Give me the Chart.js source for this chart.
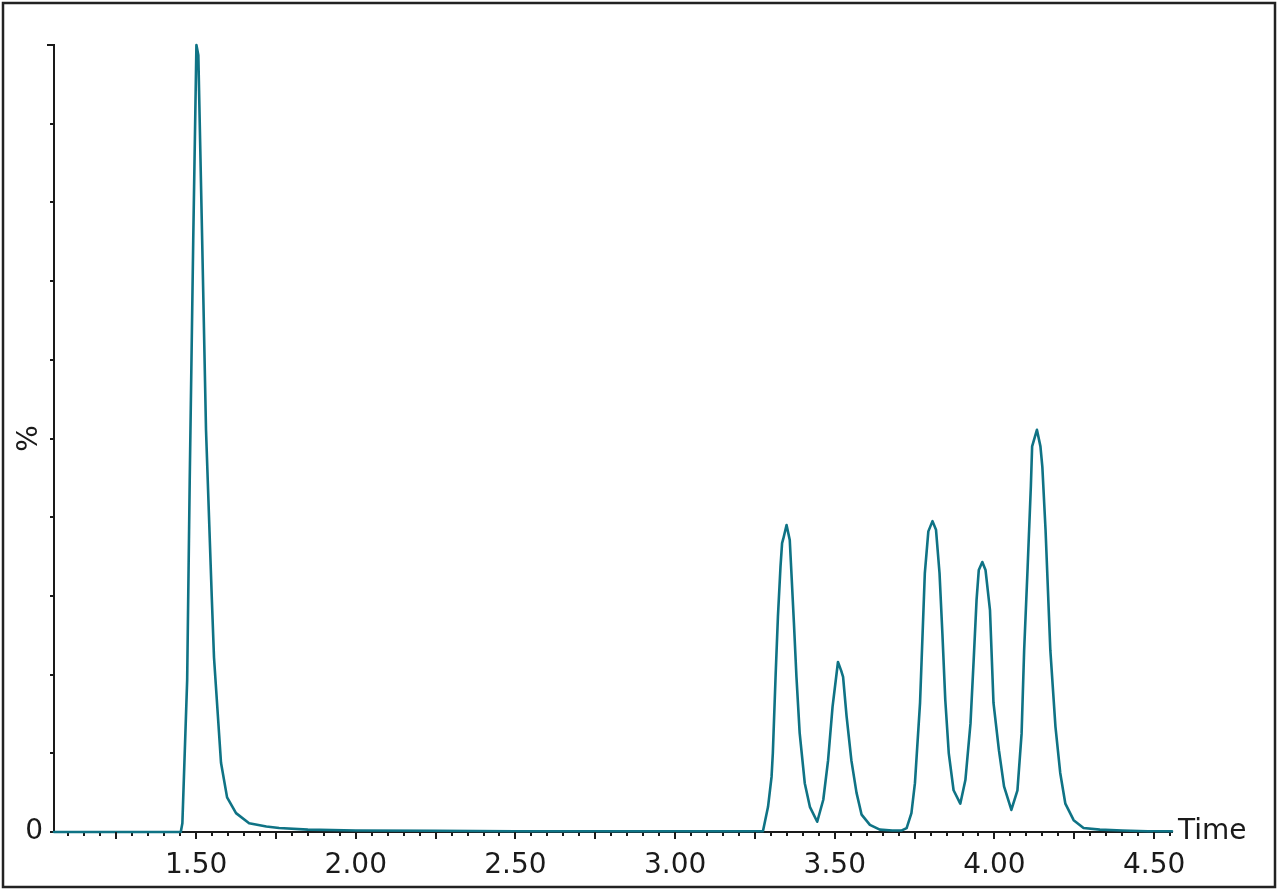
<!DOCTYPE html>
<html><head><meta charset="utf-8">
<script src="https://cdn.jsdelivr.net/npm/chart.js@4.4.1/dist/chart.umd.min.js"></script>
<style>html,body{margin:0;padding:0;background:#fff;}canvas{display:block;}</style>
</head><body>
<canvas id="c" width="1280" height="893"></canvas>
<script>
// Retention time (min)
const times = [
  1.055, 1.20, 1.35, 1.44, 1.452, 1.457, 1.472, 1.480, 1.491, 1.501, 1.507, 1.519, 1.531, 1.549, 1.556,
  1.578, 1.597, 1.625, 1.666, 1.72, 1.76, 1.85, 2.00, 2.25, 2.50, 2.75, 3.00, 3.20, 3.265,
  3.275, 3.291, 3.302, 3.306, 3.315, 3.322, 3.330, 3.335, 3.339, 3.349, 3.359, 3.364, 3.372, 3.380,
  3.390, 3.406, 3.422, 3.445, 3.464, 3.479, 3.493, 3.510, 3.520, 3.526, 3.537, 3.552, 3.568, 3.584,
  3.610, 3.641, 3.68, 3.71,
  3.725, 3.740, 3.751, 3.767, 3.772, 3.782, 3.793, 3.806, 3.817, 3.828, 3.837, 3.846, 3.857, 3.872,
  3.893, 3.909, 3.925, 3.935, 3.944, 3.951, 3.962, 3.972, 3.986, 3.997, 4.014, 4.030, 4.053, 4.072,
  4.085, 4.093, 4.104, 4.114, 4.118, 4.133, 4.144, 4.150, 4.160, 4.175, 4.191, 4.206, 4.222, 4.248,
  4.279, 4.33, 4.40, 4.48, 4.556
];
// Relative intensity (%)
const intensity = [
  0, 0, 0, 0, 0, 1.1, 19.3, 44.7, 75.2, 100, 98.7, 75.2, 51.1, 29.9, 22.2,
  8.8, 4.4, 2.4, 1.1, 0.7, 0.5, 0.3, 0.2, 0.15, 0.1, 0.1, 0.1, 0.1, 0.1,
  0.1, 3.2, 7.0, 10.0, 20.2, 27.4, 33.7, 36.7, 37.3, 39.0, 37.1, 33.1, 26.6, 19.7,
  12.6, 6.2, 3.2, 1.3, 4.1, 9.1, 15.9, 21.6, 20.5, 19.7, 14.7, 9.1, 5.0, 2.2,
  0.9, 0.3, 0.2, 0.2,
  0.5, 2.4, 6.2, 16.4, 21.9, 32.9, 38.2, 39.5, 38.4, 32.9, 25.2, 16.8, 10.0, 5.3,
  3.6, 6.6, 13.8, 21.9, 29.5, 33.3, 34.3, 33.3, 28.2, 16.4, 10.4, 5.8, 2.8, 5.3,
  12.5, 23.1, 33.7, 43.9, 49.0, 51.1, 49.0, 46.4, 38.4, 23.1, 13.4, 7.5, 3.6, 1.5,
  0.5, 0.3, 0.2, 0.1, 0.1
];
const xLabelValues = [1.50, 2.00, 2.50, 3.00, 3.50, 4.00, 4.50];
const xLabels = ['1.50', '2.00', '2.50', '3.00', '3.50', '4.00', '4.50'];
const xMajorTicks = [1.25, 1.50, 1.75, 2.00, 2.25, 2.50, 2.75, 3.00, 3.25, 3.50, 3.75, 4.00, 4.25, 4.50];
const yTickValues = [0, 10, 20, 30, 40, 50, 60, 70, 80, 90, 100];
const yLabels = ['0'];
const xAxisTitle = 'Time';
const yAxisTitle = '%';

const LINE = '#0f7385';
const INK = '#1a1a1a';
const FONT = 'DejaVu Sans';

const minorTicks = [];
for (let k = 22; k <= 91; k++) minorTicks.push(Math.round(k * 5) / 100);

function xLabelFor(v) {
  for (let i = 0; i < xLabelValues.length; i++) if (Math.abs(v - xLabelValues[i]) < 1e-6) return xLabels[i];
  return '';
}

const decor = {
  id: 'decor',
  afterDraw(chart) {
    const c = chart.ctx, x = chart.scales.x, y = chart.scales.y, a = chart.chartArea;
    c.save();
    c.strokeStyle = '#222'; c.lineWidth = 2.5;
    c.strokeRect(3, 3, 1272, 884);
    c.strokeStyle = INK; c.lineWidth = 2;
    c.beginPath();
    xMajorTicks.forEach(v => {
      const px = Math.round(x.getPixelForValue(v));
      c.moveTo(px, a.bottom); c.lineTo(px, a.bottom + 7);
    });
    const py = Math.round(y.getPixelForValue(100));
    c.moveTo(a.left - 7, py); c.lineTo(a.left, py);
    c.stroke();
    c.fillStyle = INK;
    c.font = '28px "' + FONT + '"';
    c.textAlign = 'left'; c.textBaseline = 'middle';
    c.fillText(xAxisTitle, a.right + 6, a.bottom);
    c.restore();
  }
};

new Chart(document.getElementById('c'), {
  type: 'line',
  data: {
    datasets: [{
      data: times.map((t, i) => ({ x: t, y: intensity[i] })),
      borderColor: LINE, borderWidth: 2.6, pointRadius: 0, tension: 0, fill: false, clip: 8,
      borderJoinStyle: 'round', borderCapStyle: 'round'
    }]
  },
  options: {
    responsive: false, animation: false, devicePixelRatio: 1,
    layout: { padding: { left: 5, top: 45, right: 108, bottom: 5 } },
    plugins: { legend: { display: false }, tooltip: { enabled: false } },
    scales: {
      x: {
        type: 'linear', min: 1.055, max: 4.556,
        afterBuildTicks: s => { s.ticks = minorTicks.map(v => ({ value: v })); },
        afterFit: s => { s.height = 56; },
        grid: { drawOnChartArea: false, drawTicks: true, tickLength: 4, color: INK, lineWidth: 2 },
        border: { display: true, color: INK, width: 2 },
        ticks: { autoSkip: false, maxRotation: 0, minRotation: 0, padding: 13, color: INK,
          font: { family: FONT, size: 28 }, callback: v => xLabelFor(v) }
      },
      y: {
        type: 'linear', min: 0, max: 100,
        afterBuildTicks: s => { s.ticks = yTickValues.map(v => ({ value: v })); },
        afterFit: s => { s.width = 49; },
        grid: { drawOnChartArea: false, drawTicks: true, tickLength: 4, color: INK, lineWidth: 2 },
        border: { display: true, color: INK, width: 2 },
        ticks: { autoSkip: false, padding: 7, color: INK, font: { family: FONT, size: 28 },
          callback: v => (v === 0 ? yLabels[0] : '') },
        title: { display: true, text: yAxisTitle, color: INK, font: { family: FONT, size: 28 }, padding: { top: 8, bottom: 0 } }
      }
    }
  },
  plugins: [decor]
});
</script>
</body></html>
